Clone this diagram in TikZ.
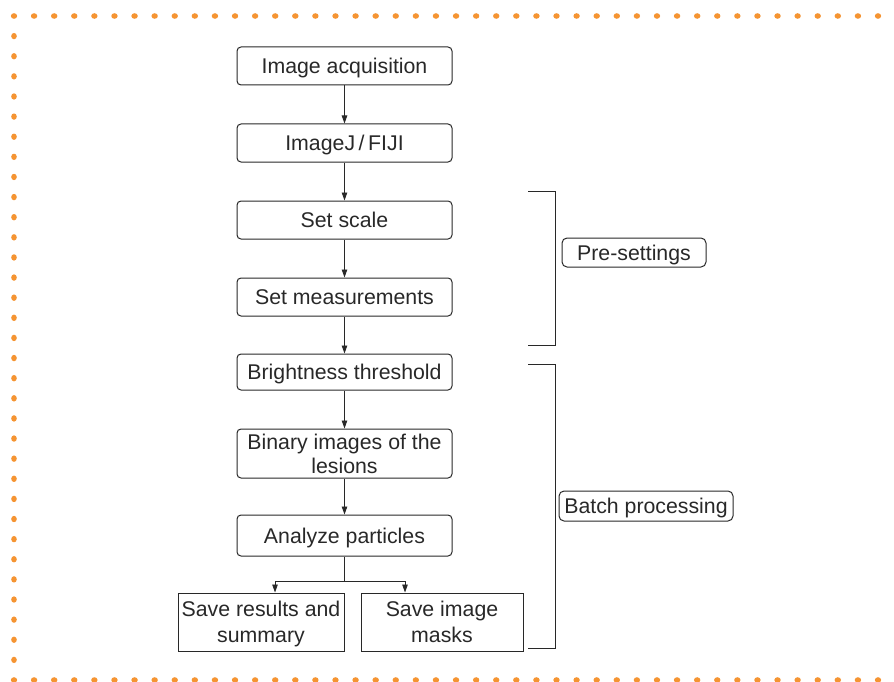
\documentclass[tikz,border=0pt]{standalone}
\usepackage{fontspec}
\setmainfont{Liberation Sans}
\usetikzlibrary{arrows.meta}
\definecolor{dotorange}{RGB}{245,148,50}
\definecolor{lineg}{RGB}{40,40,40}
\begin{document}
\begin{tikzpicture}[x=1pt,y=-1pt,
  every node/.style={font=\fontsize{21.3}{24.4}\selectfont, text=lineg, text depth=0pt},
  stepbox/.style={draw=lineg, line width=1pt, rounded corners=4pt, minimum width=215pt, minimum height=38pt, inner sep=1pt, align=center},
  savebox/.style={draw=lineg, line width=1pt, minimum height=58pt, inner sep=1pt, align=center, font=\fontsize{21.3}{25.7}\selectfont},
  tagbox/.style={draw=lineg, line width=1pt, rounded corners=5pt, minimum height=29pt, inner sep=1pt},
  conn/.style={draw=lineg, line width=0.9pt, -{Triangle[length=8pt,width=5.5pt]}},
  brk/.style={draw=lineg, line width=0.9pt}
]
\useasboundingbox (0,0) rectangle (894,682);
% dotted frame
\foreach \i in {0,...,43} {
  \fill[dotorange] ({14+\i*20.093},16) circle[x radius=3.2pt, y radius=2.8pt];
  \fill[dotorange] ({14+\i*20.093},680) circle[x radius=3.2pt, y radius=2.8pt];
}
\foreach \j in {1,...,32} {
  \fill[dotorange] (14,{16+\j*20.121}) circle[x radius=2.8pt, y radius=3.2pt];
}
% main steps
\node[stepbox] (acq) at (344.5,66) {Image acquisition};
\node[stepbox] (fiji) at (344.5,143) {ImageJ\,/\,FIJI};
\node[stepbox] (scale) at (344.5,220) {Set scale};
\node[stepbox] (meas) at (344.5,297) {Set measurements};
\node[stepbox, minimum height=36pt] (thr) at (344.5,372) {Brightness threshold};
\node[stepbox, minimum height=49pt] (bin) at (344.5,453.5) {Binary images of the\\lesions};
\node[stepbox, minimum height=41pt] (ana) at (344.5,535.5) {Analyze particles};
\node[savebox, minimum width=166pt] (res) at (261,622) {Save results and\\summary};
\node[savebox, minimum width=162pt] (mask) at (442,622) {Save image\\masks};
% connectors
\draw[conn] (acq) -- (fiji);
\draw[conn] (fiji) -- (scale);
\draw[conn] (scale) -- (meas);
\draw[conn] (meas) -- (thr);
\draw[conn] (thr) -- (bin);
\draw[conn] (bin) -- (ana);
\coordinate (split) at (344.5,581);
\coordinate (sl) at (275,581);
\coordinate (sr) at (405,581);
\draw[brk] (ana.south) -- (split);
\draw[conn] (split) -- (sl) -- (sl |- res.north);
\draw[conn] (split) -- (sr) -- (sr |- mask.north);
% brackets
\coordinate (pa) at (528,191);
\coordinate (pb) at (555,191);
\coordinate (pc) at (555,345);
\coordinate (pd) at (528,345);
\draw[brk] (pa) -- (pb) -- (pc) -- (pd);
\coordinate (ba) at (528,364);
\coordinate (bb) at (555,364);
\coordinate (bc) at (555,648);
\coordinate (bd) at (528,648);
\draw[brk] (ba) -- (bb) -- (bc) -- (bd);
\node[tagbox, minimum width=144pt] (pre) at (634,252.5) {Pre-settings};
\node[tagbox, minimum width=174pt, minimum height=30pt] (batch) at (646,506) {Batch processing};
\end{tikzpicture}
\end{document}
